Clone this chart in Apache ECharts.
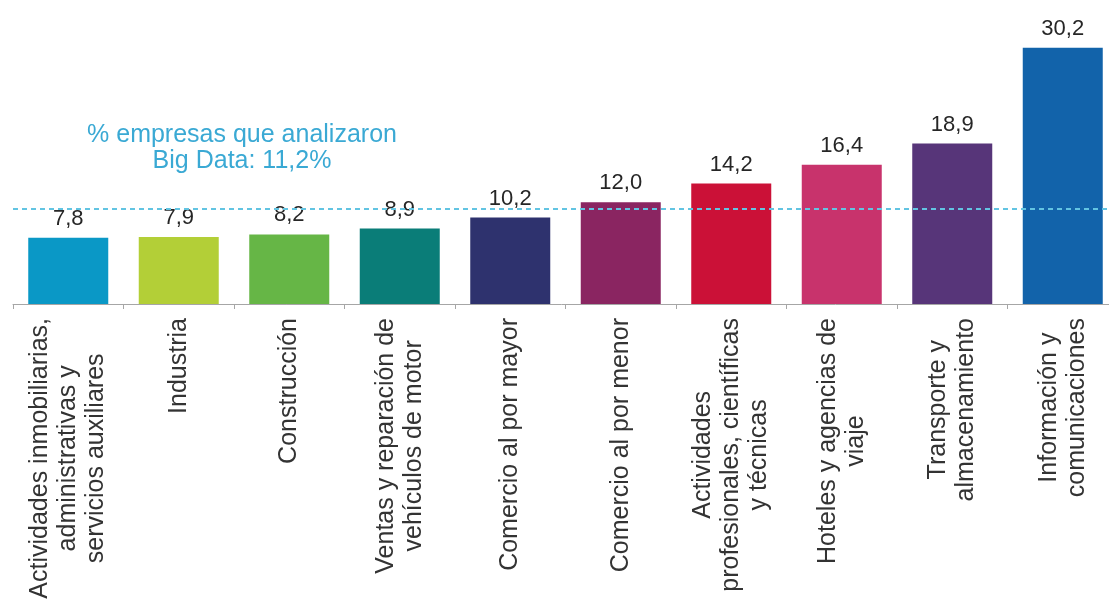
<!DOCTYPE html>
<html>
<head>
<meta charset="utf-8">
<script src="https://cdn.jsdelivr.net/npm/echarts@6/dist/echarts.min.js"></script>
<style>html,body{margin:0;padding:0;background:#fff;}#c{width:1109px;height:612px;}</style>
</head>
<body>
<div id="c"></div>
<script>
var categories = [
  "Actividades inmobiliarias,\nadministrativas y\nservicios auxiliares",
  "Industria",
  "Construcción",
  "Ventas y reparación de\nvehículos de motor",
  "Comercio al por mayor",
  "Comercio al por menor",
  "Actividades\nprofesionales, científicas\ny técnicas",
  "Hoteles y agencias de\nviaje",
  "Transporte y\nalmacenamiento",
  "Información y\ncomunicaciones"
];
var values = [7.8, 7.9, 8.2, 8.9, 10.2, 12.0, 14.2, 16.4, 18.9, 30.2];
var barColors = ["#0A98C6", "#B3CF37", "#66B646", "#0A7D78", "#2E326E", "#8A2561", "#CB1137", "#C8336C", "#573579", "#1263AA"];
var averageValue = 11.2;
var averageLabel = "% empresas que analizaron\nBig Data: 11,2%";

var chart = echarts.init(document.getElementById('c'), null, {renderer: 'canvas'});
var font = '"Liberation Sans", Arial, sans-serif';
chart.setOption({
  animation: false,
  backgroundColor: '#ffffff',
  grid: {left: 13, right: -9, top: 7, bottom: 308, containLabel: false, outerBoundsMode: 'none'},
  xAxis: {
    type: 'category',
    data: categories,
    boundaryGap: true,
    axisLine: {show: true, lineStyle: {color: '#A6A6A6', width: 1}},
    axisTick: {show: true, alignWithLabel: false, length: 5, lineStyle: {color: '#A6A6A6'}},
    axisLabel: {
      interval: 0,
      rotate: 90,
      margin: 14,
      color: '#333333',
      fontFamily: font,
      fontSize: 25,
      hideOverlap: false,
      formatter: function (v) {
        return v.split('\n').map(function (l) { return '{c|' + l + '}'; }).join('\n');
      },
      rich: {c: {align: 'center', fontFamily: font, fontSize: 25, lineHeight: 28, color: '#333333'}}
    }
  },
  yAxis: {
    type: 'value', min: 0, max: 35, show: false,
    splitLine: {show: false}
  },
  series: [{
    type: 'bar',
    data: values.map(function (v, i) { return {value: v, itemStyle: {color: barColors[i]}}; }),
    barWidth: 80,
    label: {
      show: true, position: 'top', distance: 8,
      color: '#262626', fontFamily: font, fontSize: 22,
      formatter: function (p) { return p.value.toFixed(1).replace('.', ','); }
    },
    markLine: {
      silent: true, symbol: 'none',
      lineStyle: {color: '#62C4E2', type: [5, 4], width: 2},
      label: {show: false},
      data: [{yAxis: averageValue}]
    }
  }],
  graphic: [{
    type: 'text',
    x: 242, y: 122,
    style: {
      text: averageLabel,
      align: 'center',
      verticalAlign: 'top',
      fill: '#3AA9D4',
      font: '25px "Liberation Sans", Arial, sans-serif',
      lineHeight: 26
    }
  }]
});
</script>
</body>
</html>
